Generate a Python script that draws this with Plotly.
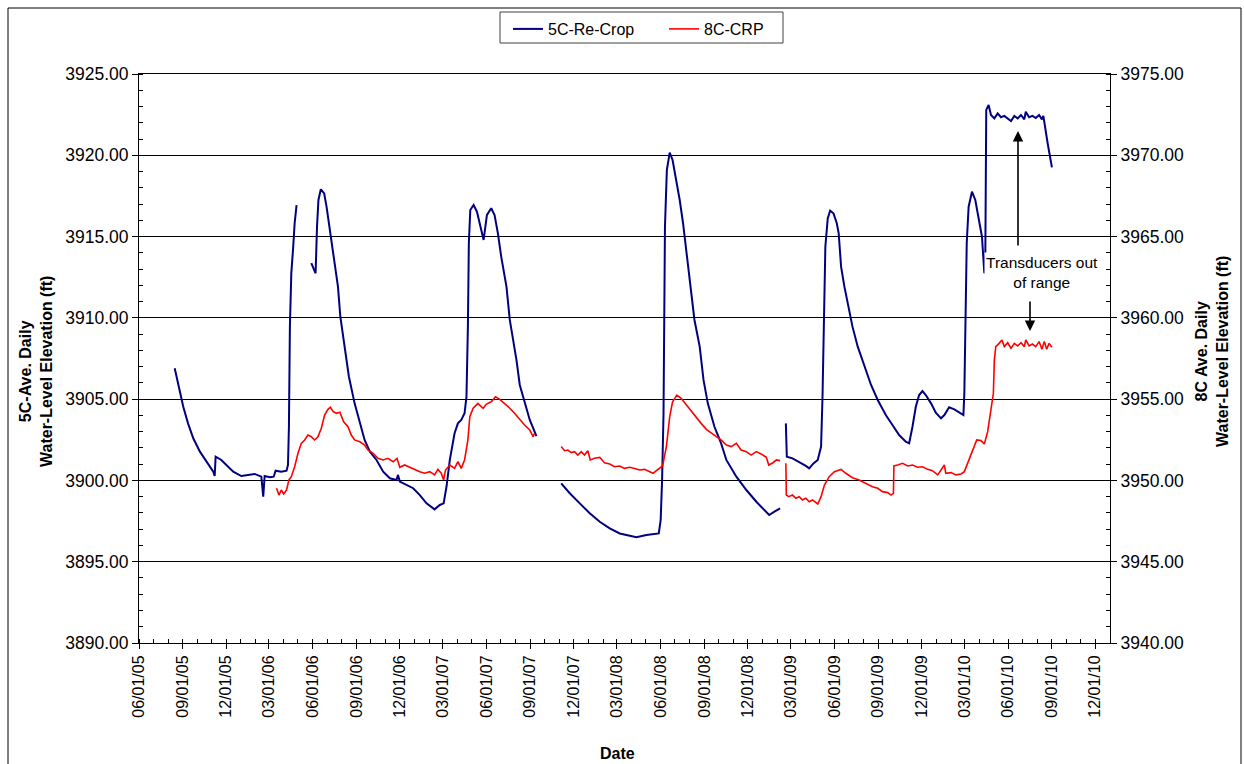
import plotly.graph_objects as go

# ---------------- data ----------------
# 5C-Re-Crop (left axis), four recorded segments
blue_seg1_dates = ["2005-08-15","2005-08-26","2005-09-02","2005-09-12","2005-09-23","2005-10-07","2005-10-21",
                   "2005-11-04","2005-11-07","2005-11-09","2005-11-21","2005-12-02","2005-12-16","2006-01-02",
                   "2006-01-20","2006-01-30","2006-02-13","2006-02-17","2006-02-20","2006-03-03","2006-03-11",
                   "2006-03-15","2006-03-27","2006-04-07","2006-04-10","2006-04-12","2006-04-14","2006-04-17",
                   "2006-04-21","2006-04-24","2006-04-28"]
blue_seg1_vals = [3906.90,3905.36,3904.53,3903.51,3902.59,3901.77,3901.15,
                  3900.54,3900.27,3901.46,3901.26,3900.95,3900.54,3900.27,
                  3900.34,3900.40,3900.23,3899.00,3900.27,3900.19,3900.23,
                  3900.60,3900.54,3900.60,3900.95,3903.30,3909.46,3912.74,
                  3914.38,3915.82,3916.94]

blue_seg2_dates = ["2006-05-29","2006-06-03","2006-06-07","2006-06-10","2006-06-13","2006-06-18","2006-06-25",
                   "2006-06-30","2006-07-07","2006-07-15","2006-07-24","2006-07-29","2006-08-07","2006-08-16",
                   "2006-08-28","2006-09-08","2006-09-18","2006-09-29","2006-10-13","2006-10-27","2006-11-10",
                   "2006-11-24","2006-11-27","2006-12-01","2006-12-15","2006-12-29","2007-01-12","2007-01-26",
                   "2007-02-12","2007-02-23","2007-03-03","2007-03-09","2007-03-16","2007-03-26","2007-04-02",
                   "2007-04-09","2007-04-16","2007-04-20","2007-04-23","2007-04-25","2007-04-28","2007-05-05",
                   "2007-05-12","2007-05-19","2007-05-26","2007-06-02","2007-06-11","2007-06-18","2007-06-25",
                   "2007-07-02","2007-07-13","2007-07-20","2007-08-03","2007-08-10","2007-08-24","2007-08-31",
                   "2007-09-14"]
blue_seg2_vals = [3913.36,3912.98,3912.74,3915.61,3917.25,3917.91,3917.66,
                  3916.84,3915.40,3913.56,3911.92,3910.07,3908.23,3906.38,
                  3904.74,3903.51,3902.49,3901.77,3901.26,3900.54,3900.13,
                  3900.03,3900.34,3899.93,3899.72,3899.52,3899.10,3898.59,
                  3898.22,3898.49,3898.59,3899.61,3901.26,3902.90,3903.51,
                  3903.72,3904.13,3905.15,3909.46,3914.59,3916.63,3916.94,
                  3916.53,3915.61,3914.79,3916.33,3916.74,3916.33,3915.20,
                  3913.77,3911.92,3909.87,3907.41,3905.87,3904.33,3903.72,
                  3902.73]

blue_seg3_dates = ["2007-11-05","2007-11-23","2007-12-14","2008-01-04","2008-01-25","2008-02-15","2008-03-07",
                   "2008-03-28","2008-04-11","2008-05-02","2008-05-23","2008-05-28","2008-06-01","2008-06-04",
                   "2008-06-07","2008-06-08","2008-06-10","2008-06-14","2008-06-20","2008-06-26","2008-07-04",
                   "2008-07-11","2008-07-18","2008-07-25","2008-08-02","2008-08-11","2008-08-22","2008-08-30",
                   "2008-09-08","2008-09-22","2008-10-06","2008-10-17","2008-11-07","2008-11-28","2008-12-19",
                   "2009-01-05","2009-01-15","2009-01-26","2009-02-07"]
blue_seg3_vals = [3899.82,3899.21,3898.59,3897.98,3897.46,3897.05,3896.74,
                  3896.58,3896.50,3896.64,3896.70,3896.74,3897.56,3900.03,
                  3904.13,3909.46,3915.61,3919.10,3920.16,3919.71,3918.48,
                  3917.25,3915.82,3914.17,3912.33,3909.87,3908.23,3906.18,
                  3904.74,3903.30,3902.28,3901.26,3900.23,3899.41,3898.69,
                  3898.14,3897.87,3898.08,3898.28]

blue_seg4_dates = ["2009-02-19","2009-02-21","2009-03-05","2009-03-19","2009-04-02","2009-04-09","2009-04-18",
                   "2009-04-27","2009-05-04","2009-05-07","2009-05-10","2009-05-13","2009-05-18","2009-05-23",
                   "2009-05-30","2009-06-06","2009-06-10","2009-06-15","2009-06-22","2009-07-01","2009-07-09",
                   "2009-07-20","2009-08-03","2009-08-17","2009-08-31","2009-09-17","2009-10-01","2009-10-15",
                   "2009-10-29","2009-11-05","2009-11-12","2009-11-19","2009-11-26","2009-12-03","2009-12-10",
                   "2009-12-21","2009-12-31","2010-01-11","2010-01-18","2010-01-28","2010-02-08","2010-02-18",
                   "2010-02-27","2010-03-01","2010-03-03","2010-03-06","2010-03-10","2010-03-17","2010-03-24",
                   "2010-03-31","2010-04-07","2010-04-12","2010-04-14","2010-04-16","2010-04-21","2010-04-26",
                   "2010-05-03","2010-05-10","2010-05-17","2010-05-24","2010-05-31","2010-06-07","2010-06-14",
                   "2010-06-21","2010-06-28","2010-07-05","2010-07-08","2010-07-15","2010-07-22","2010-07-29",
                   "2010-08-05","2010-08-11","2010-08-14","2010-08-18","2010-08-23","2010-08-28","2010-09-01"]
blue_seg4_vals = [3903.51,3901.46,3901.36,3901.15,3900.89,3900.74,3901.05,
                  3901.26,3902.08,3905.15,3909.46,3914.38,3916.12,3916.59,
                  3916.43,3915.82,3915.20,3913.15,3911.92,3910.69,3909.46,
                  3908.23,3906.99,3905.87,3904.95,3904.02,3903.41,3902.79,
                  3902.38,3902.28,3903.30,3904.53,3905.25,3905.50,3905.25,
                  3904.74,3904.17,3903.82,3904.02,3904.50,3904.37,3904.17,
                  3904.02,3905.36,3909.46,3914.59,3916.84,3917.76,3917.25,
                  3916.22,3914.99,3912.74,3913.56,3922.79,3923.09,3922.48,
                  3922.27,3922.58,3922.34,3922.42,3922.27,3922.11,3922.42,
                  3922.27,3922.48,3922.21,3922.68,3922.34,3922.42,3922.29,
                  3922.48,3922.21,3922.42,3921.56,3920.74,3919.91,3919.26]

# 8C-CRP (right axis), three recorded segments
red_seg1_dates = ["2006-03-17","2006-03-22","2006-03-27","2006-04-01","2006-04-07","2006-04-12","2006-04-17",
                  "2006-04-24","2006-05-01","2006-05-08","2006-05-15","2006-05-22","2006-05-29","2006-06-05",
                  "2006-06-12","2006-06-19","2006-06-26","2006-07-03","2006-07-08","2006-07-14","2006-07-21",
                  "2006-07-28","2006-08-05","2006-08-14","2006-08-21","2006-08-28","2006-09-08","2006-09-18",
                  "2006-09-25","2006-10-06","2006-10-16","2006-10-27","2006-11-06","2006-11-17","2006-11-25",
                  "2006-12-01","2006-12-11","2006-12-22","2007-01-01","2007-01-12","2007-01-22","2007-02-02",
                  "2007-02-12","2007-02-19","2007-02-26","2007-03-03","2007-03-07","2007-03-16","2007-03-26",
                  "2007-04-02","2007-04-09","2007-04-16","2007-04-23","2007-04-27","2007-05-04","2007-05-14",
                  "2007-05-25","2007-06-01","2007-06-11","2007-06-20","2007-06-29","2007-07-09","2007-07-20",
                  "2007-07-30","2007-08-10","2007-08-20","2007-08-31","2007-09-07","2007-09-10"]
red_seg1_vals = [3949.52,3949.10,3949.41,3949.16,3949.41,3950.03,3950.23,
                 3950.84,3951.67,3952.28,3952.49,3952.79,3952.69,3952.49,
                 3952.69,3953.21,3954.02,3954.37,3954.50,3954.23,3954.13,
                 3954.19,3953.61,3953.30,3952.79,3952.49,3952.38,3952.18,
                 3951.87,3951.67,3951.36,3951.26,3951.36,3951.15,3951.36,
                 3950.81,3950.95,3950.81,3950.64,3950.54,3950.44,3950.54,
                 3950.34,3950.68,3950.44,3950.03,3950.64,3950.95,3950.74,
                 3951.15,3950.74,3951.26,3952.49,3953.92,3954.44,3954.74,
                 3954.44,3954.70,3954.84,3955.15,3954.99,3954.74,3954.44,
                 3954.13,3953.72,3953.41,3953.10,3952.69,3952.90]

red_seg2_dates = ["2007-11-05","2007-11-12","2007-11-19","2007-11-26","2007-12-03","2007-12-10","2007-12-17",
                  "2007-12-24","2007-12-31","2008-01-05","2008-01-14","2008-01-25","2008-02-04","2008-02-15",
                  "2008-02-25","2008-03-07","2008-03-17","2008-03-28","2008-04-07","2008-04-18","2008-04-28",
                  "2008-05-09","2008-05-16","2008-05-23","2008-05-30","2008-06-05","2008-06-13","2008-06-20",
                  "2008-06-26","2008-07-05","2008-07-14","2008-07-25","2008-08-04","2008-08-15","2008-08-25",
                  "2008-09-05","2008-09-15","2008-09-26","2008-10-06","2008-10-17","2008-10-27","2008-11-07",
                  "2008-11-17","2008-11-28","2008-12-08","2008-12-19","2008-12-29","2009-01-09","2009-01-14",
                  "2009-01-23","2009-01-30","2009-02-07"]
red_seg2_vals = [3952.08,3951.83,3951.87,3951.71,3951.77,3951.56,3951.77,
                 3951.56,3951.83,3951.26,3951.36,3951.42,3951.09,3951.01,
                 3950.84,3950.89,3950.74,3950.81,3950.74,3950.64,3950.68,
                 3950.54,3950.44,3950.60,3950.74,3950.89,3952.08,3953.92,
                 3954.84,3955.25,3955.05,3954.64,3954.23,3953.82,3953.51,
                 3953.14,3952.90,3952.69,3952.49,3952.18,3952.08,3952.28,
                 3951.87,3951.77,3951.56,3951.77,3951.63,3951.42,3950.95,
                 3951.09,3951.26,3951.22]

red_seg3_dates = ["2009-02-19","2009-02-20","2009-02-25","2009-03-05","2009-03-12","2009-03-19","2009-03-26",
                  "2009-04-02","2009-04-09","2009-04-16","2009-04-27","2009-05-04","2009-05-11","2009-05-21",
                  "2009-06-01","2009-06-15","2009-06-25","2009-07-09","2009-07-23","2009-08-06","2009-08-20",
                  "2009-08-31","2009-09-10","2009-09-21","2009-09-28","2009-10-03","2009-10-04","2009-10-12",
                  "2009-10-22","2009-11-02","2009-11-12","2009-11-23","2009-12-03","2009-12-14","2009-12-24",
                  "2010-01-04","2010-01-11","2010-01-18","2010-01-21","2010-02-01","2010-02-11","2010-02-22",
                  "2010-03-01","2010-03-08","2010-03-15","2010-03-22","2010-03-27","2010-04-05","2010-04-12",
                  "2010-04-19","2010-04-26","2010-05-01","2010-05-03","2010-05-06","2010-05-13","2010-05-19",
                  "2010-05-24","2010-05-31","2010-06-07","2010-06-14","2010-06-21","2010-06-28","2010-07-05",
                  "2010-07-08","2010-07-15","2010-07-22","2010-07-29","2010-08-05","2010-08-11","2010-08-16",
                  "2010-08-21","2010-08-26","2010-09-01"]
red_seg3_vals = [3951.05,3949.10,3949.00,3949.10,3948.90,3949.00,3948.80,
                 3948.90,3948.69,3948.80,3948.55,3949.00,3949.72,3950.23,
                 3950.54,3950.68,3950.44,3950.17,3950.03,3949.82,3949.61,
                 3949.52,3949.31,3949.25,3949.10,3949.21,3950.89,3950.95,
                 3951.05,3950.89,3950.95,3950.81,3950.84,3950.68,3950.60,
                 3950.34,3950.64,3950.95,3950.44,3950.48,3950.34,3950.40,
                 3950.54,3951.05,3951.67,3952.08,3952.49,3952.45,3952.24,
                 3953.00,3954.23,3955.36,3957.41,3958.23,3958.43,3958.64,
                 3958.23,3958.47,3958.13,3958.43,3958.27,3958.47,3958.23,
                 3958.64,3958.27,3958.39,3958.23,3958.54,3958.07,3958.54,
                 3958.07,3958.43,3958.19]

series_names = ["5C-Re-Crop", "8C-CRP"]
left_title = "5C-Ave. Daily<br>Water-Level Elevation (ft)"
right_title = "8C Ave. Daily<br>Water-Level Elevation (ft)"
x_title = "Date"
note_text = "Transducers out<br>of range"

# ---------------- build gapped series ----------------
def join(segments):
    xs, ys = [], []
    for d, v in segments:
        if xs:
            xs.append(None)
            ys.append(None)
        xs.extend(d)
        ys.extend(v)
    return xs, ys

bx, by = join([(blue_seg1_dates, blue_seg1_vals), (blue_seg2_dates, blue_seg2_vals),
               (blue_seg3_dates, blue_seg3_vals), (blue_seg4_dates, blue_seg4_vals)])
rx, ry = join([(red_seg1_dates, red_seg1_vals), (red_seg2_dates, red_seg2_vals),
               (red_seg3_dates, red_seg3_vals)])

FONT = "Liberation Sans, Arial, sans-serif"
W, H = 1244, 764
L, R, T, B = 139, 134, 74, 121
PW, PH = W - L - R, H - T - B

def px(x):
    return (x - L) / PW

def py(y):
    return (H - B - y) / PH

fig = go.Figure()
fig.add_trace(go.Scatter(x=bx, y=by, mode="lines", name=series_names[0],
                         line=dict(color="#000080", width=2), connectgaps=False,
                         yaxis="y", legend="legend"))
fig.add_trace(go.Scatter(x=rx, y=ry, mode="lines", name=series_names[1],
                         line=dict(color="#FF0000", width=1.6), connectgaps=False,
                         yaxis="y2", legend="legend2"))

leg_common = dict(orientation="h", y=py(12), xanchor="left", yanchor="top",
                  bgcolor="rgba(0,0,0,0)", borderwidth=0, font=dict(size=16), itemwidth=30)

fig.update_layout(
    width=W, height=H,
    margin=dict(l=L, r=R, t=T, b=B, autoexpand=False),
    paper_bgcolor="white", plot_bgcolor="white",
    font=dict(family=FONT, size=16, color="black"),
    showlegend=True,
    legend=dict(x=px(508), **leg_common),
    legend2=dict(x=px(664), **leg_common),
    xaxis=dict(type="date", range=["2005-06-01", "2011-01-01"],
               tickmode="linear", tick0="2005-06-01", dtick="M3", tickformat="%m/%d/%y",
               tickangle=-90, ticks="outside", ticklen=5, tickcolor="black",
               showline=True, linecolor="black", linewidth=1, mirror=True,
               showgrid=False, zeroline=False, tickfont=dict(size=16),
               minor=dict(dtick="M1", tick0="2005-06-01", ticks="inside", ticklen=4,
                          tickcolor="black", showgrid=False)),
    yaxis=dict(range=[3890, 3925], tickmode="linear", tick0=3890, dtick=5, tickformat=".2f",
               ticks="outside", ticklen=6, tickcolor="black",
               showline=True, linecolor="black", linewidth=1,
               showgrid=True, gridcolor="black", gridwidth=1, zeroline=False,
               tickfont=dict(size=17.5),
               minor=dict(dtick=1, ticks="inside", ticklen=4, tickcolor="black", showgrid=False)),
    yaxis2=dict(range=[3940, 3975], overlaying="y", side="right", tickmode="linear",
                tick0=3940, dtick=5, tickformat=".2f",
                ticks="outside", ticklen=6, tickcolor="black",
                showline=True, linecolor="black", linewidth=1,
                showgrid=False, zeroline=False, tickfont=dict(size=17.5),
                minor=dict(dtick=1, ticks="inside", ticklen=4, tickcolor="black")),
)

# outer chart border
fig.add_shape(type="rect", xref="paper", yref="paper",
              x0=px(8), x1=px(1241), y0=py(780), y1=py(8),
              line=dict(color="black", width=1), fillcolor="rgba(0,0,0,0)", layer="below")
# legend frame
fig.add_shape(type="rect", xref="paper", yref="paper",
              x0=px(500), x1=px(783), y0=py(43), y1=py(12),
              line=dict(color="#404040", width=1), fillcolor="white", layer="below")

# axis titles
fig.add_annotation(text="<b>" + left_title + "</b>", xref="paper", yref="paper",
                   x=px(36), y=py(372), textangle=-90, showarrow=False,
                   font=dict(size=16), xanchor="center", yanchor="middle")
fig.add_annotation(text="<b>" + right_title + "</b>", xref="paper", yref="paper",
                   x=px(1212), y=py(352), textangle=-90, showarrow=False,
                   font=dict(size=16), xanchor="center", yanchor="middle")
fig.add_annotation(text="<b>" + x_title + "</b>", xref="paper", yref="paper",
                   x=px(617), y=py(753), showarrow=False, font=dict(size=16),
                   xanchor="center", yanchor="middle")

# note and arrows
fig.add_annotation(text=note_text, xref="paper", yref="paper", x=px(1042), y=py(272),
                   showarrow=False, font=dict(size=15.5), xanchor="center", yanchor="middle",
                   bgcolor="white")
fig.add_annotation(text="", xref="paper", yref="paper", x=px(1018), y=py(131),
                   ax=0, ay=116, showarrow=True, arrowhead=2, arrowsize=1.3,
                   arrowwidth=1.6, arrowcolor="black")
fig.add_annotation(text="", xref="paper", yref="paper", x=px(1030), y=py(331),
                   ax=0, ay=-31, showarrow=True, arrowhead=2, arrowsize=1.3,
                   arrowwidth=1.6, arrowcolor="black")

fig.write_html("out.html")
